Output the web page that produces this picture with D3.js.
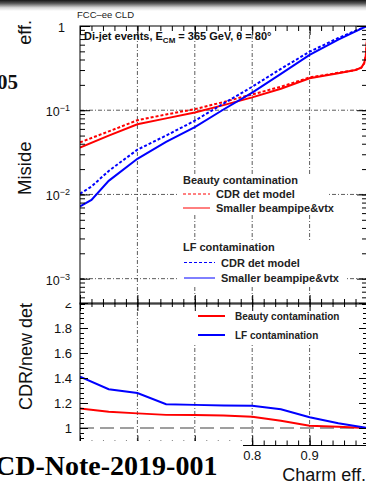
<!DOCTYPE html>
<html>
<head>
<meta charset="utf-8">
<script src="https://d3js.org/d3.v7.min.js"></script>
<style>
	html, body { margin: 0; background: #fff; overflow: hidden; }
	svg { display: block; font-family: "Liberation Sans", Arial, Helvetica, sans-serif; }
</style>
</head>
<body>
<svg id="svg"></svg>
<script>
	// upper pad: misid. efficiency vs charm efficiency
	const effLF = [0.5, 0.52, 0.55, 0.6, 0.65, 0.7, 0.75, 0.8, 0.85, 0.9, 0.95, 1.0];
	const lfCdr = [0.0102, 0.0124, 0.019, 0.034, 0.05, 0.075, 0.12, 0.19, 0.31, 0.495, 0.72, 1.0];
	const lfNew = [0.0072, 0.0086, 0.0145, 0.0265, 0.042, 0.063, 0.102, 0.162, 0.27, 0.455, 0.69, 1.0];

	const effB = [0.5, 0.55, 0.6, 0.65, 0.7, 0.75, 0.8, 0.85, 0.9, 0.95, 0.98, 0.99, 0.995, 0.998, 1.0];
	const bCdr = [0.0415, 0.056, 0.076, 0.089, 0.103, 0.125, 0.154, 0.19, 0.245, 0.278, 0.30, 0.32, 0.36, 0.45, 0.7];
	const bNew = [0.036, 0.05, 0.068, 0.080, 0.094, 0.115, 0.142, 0.18, 0.24, 0.275, 0.30, 0.32, 0.36, 0.45, 0.7];

	// lower pad: CDR / new detector ratio
	const ratioX = [0.5, 0.55, 0.6, 0.65, 0.7, 0.75, 0.8, 0.85, 0.9, 0.95, 1.0];
	const ratioBeauty = [1.157, 1.13, 1.117, 1.105, 1.104, 1.10, 1.09, 1.058, 1.018, 1.01, 1.0];
	const ratioLF = [1.41, 1.31, 1.28, 1.19, 1.185, 1.18, 1.178, 1.15, 1.086, 1.038, 1.0];

	// tick labels (0.6, 0.7 sit under the page text, only these show)
	const yTopTicks = [1, 0.1, 0.01, 0.001];
	const yTopExp = [null, "\u22121", "\u22122", "\u22123"];
	const yBotTicks = [1, 1.2, 1.4, 1.6, 1.8, 2];
	const yBotLabels = ["1", "1.2", "1.4", "1.6", "1.8", "2"];
	const xGrid = [0.6, 0.7, 0.8, 0.9];
	const xTicks = [0.8, 0.9];
	const xLabels = ["0.8", "0.9"];

	const W = 366, H = 482;
	const svg = d3.select("#svg").attr("width", W).attr("height", H);

	const x = d3.scaleLinear().domain([0.5, 1.0]).range([80, 367]);
	const yTop = d3.scaleLog().domain([5e-4, 1]).range([304, 26]);
	const yBot = d3.scaleLinear().domain([0.86, 2]).range([445.5, 303]);

	const RED = "#ff0000", BLUE = "#0000ff";
	const gridDash = "4,2,1,2";

	const defs = svg.append("defs");
	defs.append("clipPath").attr("id", "clipTop").append("rect")
		.attr("x", 80).attr("y", 26).attr("width", 287).attr("height", 278);
	defs.append("clipPath").attr("id", "clipBot").append("rect")
		.attr("x", 80).attr("y", 303).attr("width", 287).attr("height", 143);
	defs.append("clipPath").attr("id", "clipLab").append("rect")
		.attr("x", 0).attr("y", 303).attr("width", 100).attr("height", 160);
	const grad = defs.append("linearGradient").attr("id", "topbar")
		.attr("x1", 0).attr("y1", 0).attr("x2", 0).attr("y2", 1);
	grad.append("stop").attr("offset", "0%").attr("stop-color", "#161616");
	grad.append("stop").attr("offset", "30%").attr("stop-color", "#555");
	grad.append("stop").attr("offset", "70%").attr("stop-color", "#d8d8d8");
	grad.append("stop").attr("offset", "100%").attr("stop-color", "#fff");

	svg.append("rect").attr("width", W).attr("height", H).attr("fill", "#fff");

	function inwardTicks(g, axisFn, scale, values, size, tr) {
		g.append("g")
			.attr("transform", tr)
			.call(axisFn(scale).tickValues(values).tickSize(size).tickFormat(""))
			.call(s => s.select(".domain").remove())
			.selectAll("line").attr("stroke", "#000").attr("stroke-width", 1);
	}

	// ---------- lower pad ----------
	const lower = svg.append("g");
	const lowerPlot = lower.append("g").attr("clip-path", "url(#clipBot)");

	lowerPlot.selectAll(".vgrid").data(xGrid).enter().append("line")
		.attr("x1", d => x(d)).attr("x2", d => x(d))
		.attr("y1", 303).attr("y2", 446)
		.attr("stroke", "#333").attr("stroke-width", 0.8).attr("stroke-dasharray", gridDash);

	lowerPlot.append("line")
		.attr("x1", 80).attr("x2", 367).attr("y1", yBot(1)).attr("y2", yBot(1))
		.attr("stroke", "#808080").attr("stroke-width", 1.5).attr("stroke-dasharray", "14,6");

	const ratioLine = d3.line().x(d => x(d[0])).y(d => yBot(d[1]));
	lowerPlot.append("path").datum(d3.zip(ratioX, ratioBeauty))
		.attr("d", ratioLine).attr("fill", "none").attr("stroke", RED).attr("stroke-width", 2);
	lowerPlot.append("path").datum(d3.zip(ratioX, ratioLF))
		.attr("d", ratioLine).attr("fill", "none").attr("stroke", BLUE).attr("stroke-width", 2);

	// lower legend
	lower.append("rect").attr("x", 180).attr("y", 304).attr("width", 186).attr("height", 41).attr("fill", "#fff");
	const lowerLeg = [["Beauty contamination", RED, 316], ["LF contamination", BLUE, 335]];
	lowerLeg.forEach(([t, c, yy]) => {
		lower.append("line").attr("x1", 198).attr("x2", 225).attr("y1", yy).attr("y2", yy)
			.attr("stroke", c).attr("stroke-width", 2);
		lower.append("text").attr("x", 235).attr("y", yy + 4).text(t)
			.attr("font-size", 10).attr("font-weight", "bold").attr("fill", "#222");
	});

	// lower frame + ticks
	lower.append("rect").attr("x", 80).attr("y", 303).attr("width", 287).attr("height", 142.5)
		.attr("fill", "none").attr("stroke", "#000").attr("stroke-width", 1);
	inwardTicks(lower, d3.axisBottom, x, x.ticks(25), -5, "translate(0,445.5)");
	inwardTicks(lower, d3.axisBottom, x, x.ticks(5), -10, "translate(0,445.5)");
	inwardTicks(lower, d3.axisTop, x, x.ticks(25), -4, "translate(0,303)");
	inwardTicks(lower, d3.axisTop, x, x.ticks(5), -8, "translate(0,303)");
	const botMinor = d3.range(0.88, 2.001, 0.04);
	inwardTicks(lower, d3.axisLeft, yBot, botMinor, -4, "translate(80,0)");
	inwardTicks(lower, d3.axisLeft, yBot, yBotTicks, -8, "translate(80,0)");
	inwardTicks(lower, d3.axisRight, yBot, botMinor, -4, "translate(367,0)");
	inwardTicks(lower, d3.axisRight, yBot, yBotTicks, -8, "translate(367,0)");

	lower.append("g").attr("clip-path", "url(#clipLab)")
		.selectAll("text").data(yBotTicks).enter().append("text")
		.attr("x", 72).attr("y", d => yBot(d) + 4.5)
		.attr("text-anchor", "end").attr("font-size", 13).attr("fill", "#111")
		.text((d, i) => yBotLabels[i]);

	lower.selectAll(".xlab").data(xTicks).enter().append("text")
		.attr("x", d => x(d)).attr("y", 460)
		.attr("text-anchor", "middle").attr("font-size", 13).attr("fill", "#111")
		.text((d, i) => xLabels[i]);

	lower.append("text").attr("x", 366).attr("y", 481).attr("text-anchor", "end")
		.attr("font-size", 18).attr("fill", "#111").text("Charm eff.");
	lower.append("text").attr("transform", "translate(32,410) rotate(-90)")
		.attr("font-size", 18).attr("fill", "#111").text("CDR/new det");

	// ---------- upper pad ----------
	const upper = svg.append("g");
	const upperPlot = upper.append("g").attr("clip-path", "url(#clipTop)");

	upperPlot.selectAll(".vgrid").data(xGrid).enter().append("line")
		.attr("x1", d => x(d)).attr("x2", d => x(d)).attr("y1", 26).attr("y2", 304)
		.attr("stroke", "#333").attr("stroke-width", 0.8).attr("stroke-dasharray", gridDash);
	upperPlot.selectAll(".hgrid").data(yTopTicks.slice(1)).enter().append("line")
		.attr("x1", 80).attr("x2", 367).attr("y1", d => yTop(d)).attr("y2", d => yTop(d))
		.attr("stroke", "#333").attr("stroke-width", 0.8).attr("stroke-dasharray", gridDash);

	const effLine = d3.line().x(d => x(d[0])).y(d => yTop(d[1]));
	const series = [
		[effB, bCdr, RED, "3,2"],
		[effB, bNew, RED, null],
		[effLF, lfCdr, BLUE, "3,2"],
		[effLF, lfNew, BLUE, null]
	];
	series.forEach(([xs, ys, c, dash]) => {
		upperPlot.append("path").datum(d3.zip(xs, ys))
			.attr("d", effLine).attr("fill", "none").attr("stroke", c)
			.attr("stroke-width", 2).attr("stroke-dasharray", dash);
	});

	// upper legends
	upper.append("rect").attr("x", 178).attr("y", 174).attr("width", 150).attr("height", 39).attr("fill", "#fff");
	upper.append("rect").attr("x", 178).attr("y", 240).attr("width", 168).attr("height", 47).attr("fill", "#fff");
	const legFont = 11;
	upper.append("text").attr("x", 183).attr("y", 184).attr("font-size", legFont)
		.attr("font-weight", "bold").attr("fill", "#222").text("Beauty contamination");
	upper.append("text").attr("x", 183).attr("y", 251).attr("font-size", legFont)
		.attr("font-weight", "bold").attr("fill", "#222").text("LF contamination");
	const upperLeg = [
		[183, 210, 194, 216, RED, "3,2", "CDR det model"],
		[183, 210, 208, 216, RED, null, "Smaller beampipe&vtx"],
		[184, 215, 262.5, 221, BLUE, "3,2", "CDR det model"],
		[184, 215, 278, 221, BLUE, null, "Smaller beampipe&vtx"]
	];
	upperLeg.forEach(([x1, x2, yy, tx, c, dash, t]) => {
		upper.append("line").attr("x1", x1).attr("x2", x2).attr("y1", yy).attr("y2", yy)
			.attr("stroke", c).attr("stroke-width", 1).attr("stroke-dasharray", dash);
		upper.append("text").attr("x", tx).attr("y", yy + 4).attr("font-size", legFont)
			.attr("font-weight", "bold").attr("fill", "#222").text(t);
	});

	// upper frame + ticks
	upper.append("rect").attr("x", 80).attr("y", 26).attr("width", 287).attr("height", 278)
		.attr("fill", "none").attr("stroke", "#000").attr("stroke-width", 1);
	inwardTicks(upper, d3.axisBottom, x, x.ticks(25), -5, "translate(0,304)");
	inwardTicks(upper, d3.axisBottom, x, x.ticks(5), -9, "translate(0,304)");
	inwardTicks(upper, d3.axisTop, x, x.ticks(25), -5, "translate(0,26)");
	inwardTicks(upper, d3.axisTop, x, x.ticks(5), -9, "translate(0,26)");
	const logMinor = yTop.ticks().filter(d => d >= 5e-4 && d <= 1);
	inwardTicks(upper, d3.axisLeft, yTop, logMinor, -5, "translate(80,0)");
	inwardTicks(upper, d3.axisLeft, yTop, yTopTicks, -10, "translate(80,0)");
	inwardTicks(upper, d3.axisRight, yTop, logMinor, -5, "translate(367,0)");
	inwardTicks(upper, d3.axisRight, yTop, yTopTicks, -10, "translate(367,0)");

	yTopTicks.forEach((v, i) => {
		const t = upper.append("text").attr("y", yTop(v) + 6)
			.attr("text-anchor", "end").attr("font-size", 12.5).attr("fill", "#111");
		if (yTopExp[i] === null) {
			t.attr("x", 65).text("1");
		} else {
			t.attr("x", 70);
			t.append("tspan").text("10");
			t.append("tspan").attr("dy", -5).attr("font-size", 9).text(yTopExp[i]);
		}
	});

	upper.append("text").attr("x", 77).attr("y", 18).attr("font-size", 9.5)
		.attr("fill", "#222").text("FCC\u2013ee CLD");
	const ttl = upper.append("text").attr("x", 84).attr("y", 40).attr("font-size", 11)
		.attr("font-weight", "bold").attr("fill", "#111");
	ttl.append("tspan").text("Di-jet events, E");
	ttl.append("tspan").attr("dy", 3).attr("font-size", 8).text("CM");
	ttl.append("tspan").attr("dy", -3).text(" = 365 GeV, \u03b8 = 80\u00b0");

	upper.append("text").attr("transform", "translate(31,195) rotate(-90)")
		.attr("font-size", 18.5).attr("fill", "#111").text("Miside");
	upper.append("text").attr("transform", "translate(31,20) rotate(-90)")
		.attr("text-anchor", "end").attr("font-size", 18).attr("fill", "#111").text("eff.");

	// ---------- page around the figure ----------
	svg.append("rect").attr("x", 0).attr("y", 0).attr("width", W).attr("height", 11).attr("fill", "url(#topbar)");
	svg.append("text").attr("x", -3).attr("y", 89).attr("font-size", 21).attr("font-weight", "bold")
		.attr("font-family", "'Liberation Serif', 'DejaVu Serif', serif").attr("fill", "#111").text("05");
	svg.append("rect").attr("x", 0).attr("y", 441).attr("width", 243).attr("height", 41).attr("fill", "#fff");
	svg.append("text").attr("x", -5).attr("y", 475).attr("font-size", 28).attr("font-weight", "bold")
		.attr("font-family", "'Liberation Serif', 'DejaVu Serif', serif").attr("fill", "#000")
		.text("CD-Note-2019-001");
</script>
</body>
</html>
